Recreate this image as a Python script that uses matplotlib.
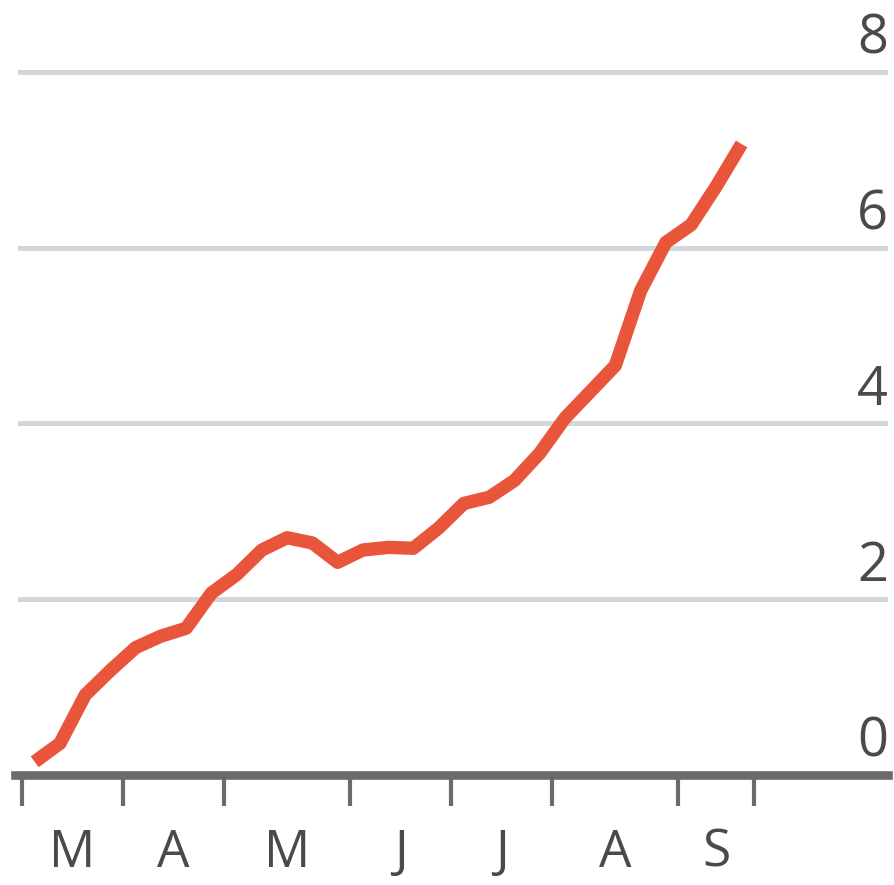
import numpy as np
import matplotlib.pyplot as plt

# weekly series, x in weeks from start of March
weeks = np.arange(29) + 0.5
values = [0.15, 0.36, 0.91, 1.19, 1.45, 1.58, 1.67, 2.07, 2.28, 2.56,
          2.70, 2.64, 2.42, 2.56, 2.59, 2.58, 2.81, 3.09, 3.16, 3.35,
          3.66, 4.06, 4.36, 4.66, 5.51, 6.06, 6.26, 6.70, 7.18]

# month boundaries (in weeks) and labels
month_edges = [0, 4, 8, 13, 17, 21, 26, 29]
month_labels = ["M", "A", "M", "J", "J", "A", "S"]
y_ticks = [0, 2, 4, 6, 8]

plt.rcParams["font.family"] = ["Open Sans", "DejaVu Sans"]

fig = plt.figure(figsize=(8.94, 8.85), dpi=100)
ax = fig.add_axes([15 / 894, 110 / 885, 873 / 894, 747 / 885])

ax.set_xlim(-0.28, 34.3)
ax.set_ylim(0, 8.5)

# horizontal gridlines
for yv in y_ticks[1:]:
    ax.axhline(yv, xmin=0.006, color="#d3d7d9", linewidth=3.6, zorder=1)

ax.plot(weeks, values, color="#e9553b", linewidth=9.6,
        solid_capstyle="butt", solid_joinstyle="round", zorder=3, clip_on=False)

for side in ["top", "left", "right"]:
    ax.spines[side].set_visible(False)
ax.spines["bottom"].set_color("#6b6b6b")
ax.spines["bottom"].set_linewidth(6.2)
ax.spines["bottom"].set_zorder(2)

ax.set_xticks(month_edges)
ax.set_xticklabels([])
ax.tick_params(axis="x", which="major", direction="out", length=22, width=3,
               color="#6b6b6b")
mids = [(a + b) / 2 for a, b in zip(month_edges[:-1], month_edges[1:])]
ax.set_xticks(mids, minor=True)
ax.set_xticklabels(month_labels, minor=True, fontsize=37, color="#4a4a4a")
ax.tick_params(axis="x", which="minor", length=0, pad=38)

ax.set_yticks([])
for yv in y_ticks:
    ax.text(1.0, yv + 0.06, str(yv), transform=ax.get_yaxis_transform(),
            ha="right", va="bottom", fontsize=39, color="#4a4a4a")

fig.savefig("out.png", dpi=100)
